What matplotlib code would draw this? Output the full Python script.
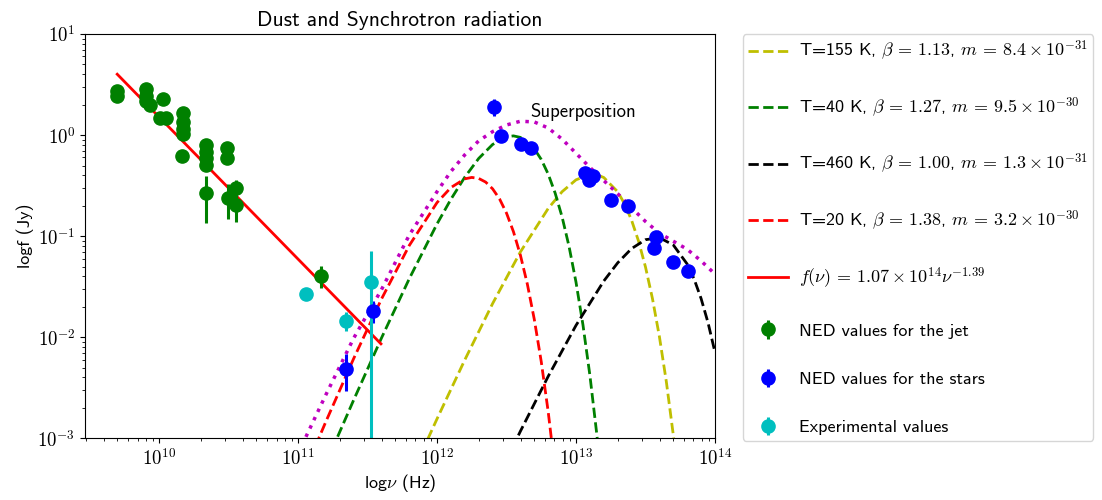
import numpy as np
import matplotlib
matplotlib.use("Agg")
import matplotlib.pyplot as plt
from matplotlib.ticker import FuncFormatter

plt.rcParams['font.family'] = ['cmss10', 'DejaVu Sans']
plt.rcParams['mathtext.fontset'] = 'cm'
plt.rcParams['axes.unicode_minus'] = False

# ---- model curves (log10 nu [Hz], log10 f [Jy]) ----
lognu_yellow = [11.8, 12.0, 12.2, 12.4, 12.6, 12.8, 12.9, 13.0, 13.1, 13.15, 13.2, 13.3, 13.35,
                13.4, 13.45, 13.5, 13.55, 13.6, 13.65, 13.7, 13.75]
logf_yellow = [-3.408, -2.808, -2.224, -1.667, -1.156, -0.726, -0.560, -0.443, -0.389, -0.392, -0.420,
               -0.561, -0.682, -0.843, -1.049, -1.305, -1.617, -1.993, -2.440, -2.966, -3.582]

lognu_green = [11.2, 11.4, 11.6, 11.8, 12.0, 12.1, 12.2, 12.3, 12.4, 12.5, 12.55, 12.6, 12.7, 12.75,
               12.8, 12.85, 12.9, 12.95, 13.0, 13.05, 13.1, 13.15, 13.2]
logf_green = [-3.251, -2.622, -2.009, -1.422, -0.879, -0.635, -0.416, -0.231, -0.093, -0.017, -0.008,
              -0.023, -0.136, -0.241, -0.386, -0.574, -0.810, -1.102, -1.455, -1.877, -2.377, -2.964, -3.648]

lognu_black = [12.4, 12.6, 12.8, 13.0, 13.2, 13.3, 13.4, 13.5, 13.6, 13.7, 13.8, 13.85, 13.9, 13.95, 14.0]
logf_black = [-3.495, -2.930, -2.387, -1.883, -1.444, -1.264, -1.123, -1.035, -1.015, -1.087, -1.276,
              -1.425, -1.617, -1.856, -2.149]

lognu_red = [11.0, 11.2, 11.4, 11.6, 11.8, 12.0, 12.1, 12.2, 12.25, 12.3, 12.35, 12.4, 12.45, 12.5,
             12.55, 12.6, 12.65, 12.7, 12.75, 12.8, 12.85, 12.9]
logf_red = [-3.480, -2.836, -2.212, -1.623, -1.093, -0.668, -0.519, -0.433, -0.419, -0.429, -0.465,
            -0.532, -0.632, -0.772, -0.956, -1.188, -1.475, -1.824, -2.242, -2.738, -3.321, -4.003]

lognu_super = [11.0, 11.2, 11.4, 11.6, 11.8, 12.0, 12.1, 12.2, 12.3, 12.4, 12.5, 12.6, 12.7, 12.8,
               12.9, 13.0, 13.1, 13.2, 13.3, 13.4, 13.5, 13.6, 13.7, 13.8, 13.9, 14.0]
logf_super = [-3.15, -2.57, -2.01, -1.53, -0.99, -0.56, -0.36, -0.195, -0.057, 0.034, 0.10, 0.137,
              0.13, 0.07, -0.04, -0.18, -0.32, -0.45, -0.58, -0.72, -0.855, -0.97, -1.05, -1.13,
              -1.245, -1.375]

# power law (synchrotron) end points
nu_pl = [5.0e9, 3.95e11]
f_pl = [4.0, 0.0086]

# ---- measured points ----
nu_jet = [4.98e9, 4.98e9, 8.1e9, 8.1e9, 8.1e9, 8.6e9, 1.06e10, 1.01e10, 1.13e10, 1.49e10, 1.49e10,
          1.49e10, 1.49e10, 1.47e10, 2.19e10, 2.19e10, 2.19e10, 2.19e10, 2.19e10, 3.09e10, 3.09e10,
          3.14e10, 3.6e10, 3.6e10, 1.455e11]
f_jet = [2.73, 2.44, 2.86, 2.44, 2.17, 1.98, 2.26, 1.47, 1.47, 1.65, 1.35, 1.15, 1.02, 0.62, 0.80,
         0.685, 0.59, 0.506, 0.265, 0.74, 0.59, 0.237, 0.298, 0.204, 0.0404]
err_jet = [0, 0, 0, 0, 0, 0, 0, 0, 0, 0, 0, 0, 0, 0, 0, 0, 0, 0, 0.13, 0.08, 0.06, 0.09, 0.06, 0.065, 0.01]

nu_stars = [2.23e11, 3.46e11, 2.59e12, 2.9e12, 4.04e12, 4.76e12, 1.16e13, 1.24e13, 1.32e13,
            1.795e13, 2.36e13, 3.75e13, 3.62e13, 4.99e13, 6.43e13]
f_stars = [0.00486, 0.0182, 1.91, 0.98, 0.81, 0.74, 0.42, 0.36, 0.39, 0.228, 0.199, 0.0975, 0.0769,
           0.0552, 0.0456]
err_stars = [0.0019, 0.0045, 0.35, 0, 0, 0, 0, 0, 0, 0, 0, 0, 0, 0, 0]

nu_exp = [1.135e11, 2.23e11, 3.37e11]
f_exp = [0.0266, 0.0146, 0.0355]
err_exp = [0, 0.003, 0.036]

labels_bb = [r'T=155 K, $\beta\,=\,1.13$, $m\,=\,8.4 \times 10^{-31}$',
             r'T=40 K, $\beta\,=\,1.27$, $m\,=\,9.5 \times 10^{-30}$',
             r'T=460 K, $\beta\,=\,1.00$, $m\,=\,1.3 \times 10^{-31}$',
             r'T=20 K, $\beta\,=\,1.38$, $m\,=\,3.2 \times 10^{-30}$']
label_pl = r'$f(\nu)\,=\,1.07 \times 10^{14}\nu^{-1.39}$'

fig = plt.figure(figsize=(11.02, 5.0), dpi=100)
ax = fig.add_axes([0.0771, 0.1234, 0.5717, 0.8086])

def p10(a):
    return 10 ** np.asarray(a, dtype=float)

ax.plot(p10(lognu_yellow), p10(logf_yellow), '--', color='y', lw=2, label=labels_bb[0])
ax.plot(p10(lognu_green), p10(logf_green), '--', color='g', lw=2, label=labels_bb[1])
ax.plot(p10(lognu_black), p10(logf_black), '--', color='k', lw=2, label=labels_bb[2])
ax.plot(p10(lognu_red), p10(logf_red), '--', color='r', lw=2, label=labels_bb[3])
ax.plot(p10(lognu_super), p10(logf_super), ':', color='m', lw=2.5)
ax.plot(nu_pl, f_pl, '-', color='r', lw=2, label=label_pl)

ms = 9.5
ax.errorbar(nu_jet, f_jet, yerr=err_jet, fmt='o', color='g', ms=ms, elinewidth=2.2,
            label='NED values for the jet')
ax.errorbar(nu_stars, f_stars, yerr=err_stars, fmt='o', color='b', ms=ms, elinewidth=2.2,
            label='NED values for the stars')
ax.errorbar(nu_exp, f_exp, yerr=err_exp, fmt='o', color='c', ms=ms, elinewidth=2.2,
            label='Experimental values')

ax.text(4.7e12, 1.7, 'Superposition', fontsize=13.5, va='center', ha='left')

ax.set_xscale('log')
ax.set_yscale('log')
ax.set_xlim(2.93e9, 1e14)
ax.set_ylim(1e-3, 10)

fmt = FuncFormatter(lambda v, p: r'$10^{%d}$' % int(round(np.log10(v))))
ax.xaxis.set_major_formatter(fmt)
ax.yaxis.set_major_formatter(fmt)
ax.tick_params(axis='both', which='major', labelsize=13.5)

ax.set_title('Dust and Synchrotron radiation', fontsize=15.5)
ax.set_xlabel(r'log$\nu$ (Hz)', fontsize=13, labelpad=2)
ax.set_ylabel('logf (Jy)', fontsize=13)
ax.yaxis.set_label_coords(-0.081, 0.5)

ax.legend(loc='upper left', bbox_to_anchor=(1.044, 1.0), borderaxespad=0, fontsize=13,
          labelspacing=1.8, handlelength=2.2, handletextpad=0.6, borderpad=0.3)

fig.savefig('out.png', dpi=100)
